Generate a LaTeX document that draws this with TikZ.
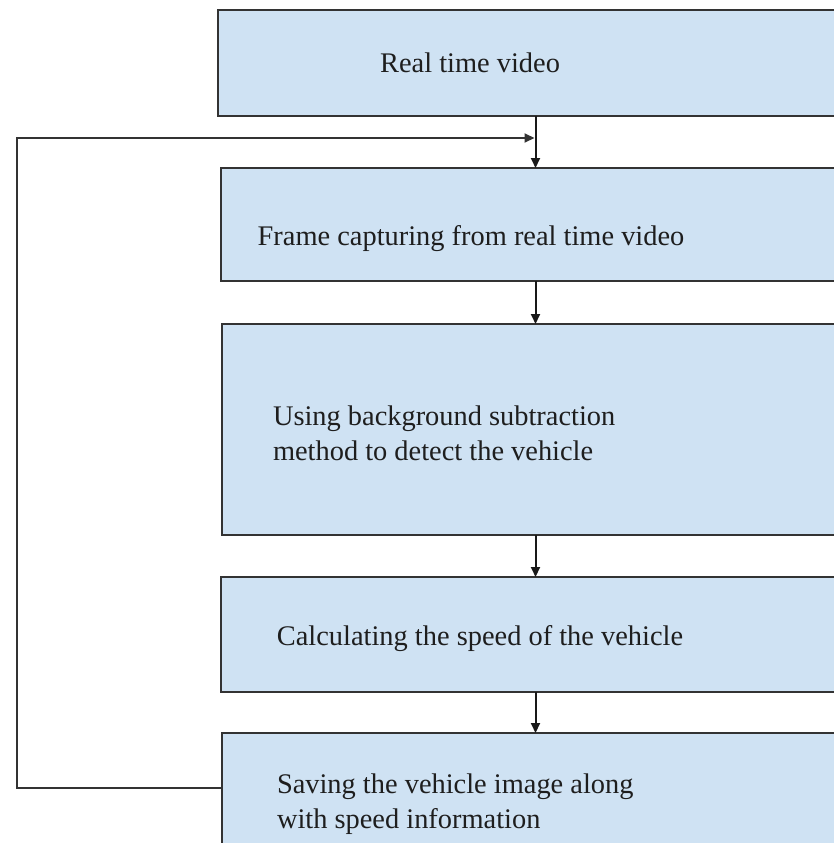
\documentclass[tikz,border=0pt]{standalone}
\usepackage{fontspec}
\setmainfont{Liberation Serif}
\usetikzlibrary{arrows.meta}
\definecolor{boxfill}{HTML}{CFE2F3}
\definecolor{edge}{HTML}{333333}
\definecolor{ink}{HTML}{1E1E1E}
\begin{document}
\begin{tikzpicture}[x=1pt,y=-1pt,
  box/.style={draw=edge,fill=boxfill,line width=2pt,rectangle,anchor=north west,outer sep=0pt,inner sep=0pt,minimum width=640pt},
  label/.style={text=ink,font=\fontsize{28.4}{35}\selectfont,inner sep=0pt,outer sep=0pt},
  conn/.style={draw=black!90,line width=2pt,-{Triangle[length=10pt,width=9pt]}},
  line/.style={draw=edge,line width=2pt}]
\useasboundingbox (0,0) rectangle (834,843);
\clip (0,0) rectangle (834,843);
\fill[white] (0,0) rectangle (834,843);
% boxes
\node[box,minimum height=106pt] (b1) at (218,10) {};
\node[box,minimum height=113pt] (b2) at (221,168) {};
\node[box,minimum height=211pt] (b3) at (222,324) {};
\node[box,minimum height=115pt] (b4) at (221,577) {};
\node[box,minimum height=140pt] (b5) at (222,733) {};
% texts
\node[label,anchor=base] (t1) at (470,73) {Real time video};
\node[label,anchor=base] (t2) at (471,245) {Frame capturing from real time video};
\node[label,anchor=west,align=left] (t3) at (273,433) {Using background subtraction\\method to detect the vehicle};
\node[label,anchor=base] (t4) at (480,645) {Calculating the speed of the vehicle};
\node[label,anchor=west,align=left] (t5) at (277,804) {Saving the vehicle image along\\with speed information};
% connector axis and feedback corners
\coordinate (axis) at (535.5,0);
\coordinate (fbB) at (17,788);
\coordinate (fbT) at (17,138);
\draw[conn] (b1.south -| axis) -- (b2.north -| axis);
\draw[conn] (b2.south -| axis) -- (b3.north -| axis);
\draw[conn] (b3.south -| axis) -- (b4.north -| axis);
\draw[conn] (b4.south -| axis) -- (b5.north -| axis);
\draw[line,-{Triangle[length=10pt,width=9pt]}] (b5.west |- fbB) -- (fbB) -- (fbT) -- ([xshift=-1pt]axis |- fbT);
\end{tikzpicture}
\end{document}
